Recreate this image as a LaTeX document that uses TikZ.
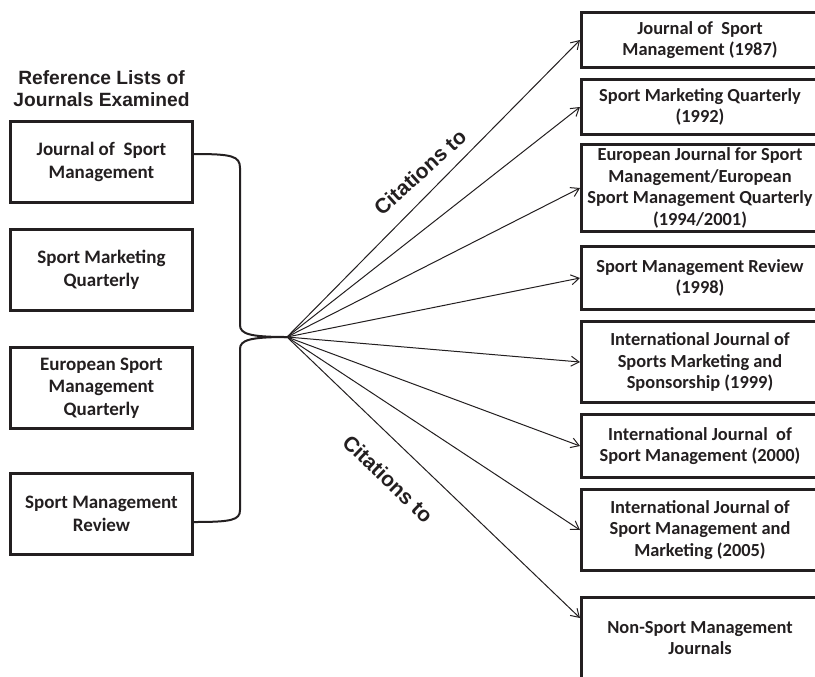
\documentclass[tikz,border=0pt]{standalone}
\usepackage{fontspec}
\setmainfont{Carlito}
\newfontfamily\arialfont{Liberation Sans}
\usetikzlibrary{arrows.meta,positioning}
\definecolor{Ink}{HTML}{231F20}

\begin{document}
\begin{tikzpicture}[
  x=0.5pt,y=-0.5pt,
  srcbox/.style={draw=Ink,line width=1.5pt,fill=white,minimum width=91pt,minimum height=40.5pt,align=center,inner sep=1pt,text=Ink,font=\bfseries\fontsize{9.5}{11.2}\selectfont},
  tgtbox/.style={draw=Ink,line width=1.5pt,fill=white,minimum width=118.5pt,align=center,inner sep=1pt,text=Ink,font=\bfseries\fontsize{9.2}{10.7}\selectfont},
  brace/.style={draw=Ink,line width=1pt},
  cite/.style={-{Straight Barb[length=4pt,width=5pt]},draw=Ink,line width=0.5pt},
  lbl/.style={text=Ink,font=\arialfont\bfseries\fontsize{9.6}{11}\selectfont}
]
\useasboundingbox (0,0) rectangle (815,676);
\clip (0,0) rectangle (815,676);
% journals whose reference lists were examined
\node[srcbox] (jsm) at (101.5,162) {Journal of\ \ Sport\\Management};
\node[srcbox,below=12pt of jsm] (smq) {Sport Marketing\\Quarterly};
\node[srcbox,below=17pt of smq] (esmq) {European Sport\\Management\\Quarterly};
\node[srcbox,below=21pt of esmq] (smr) {Sport Management\\Review};
\node[lbl,align=center,above=3pt of jsm] (head) {Reference Lists of\\Journals Examined};
% cited journals
\node[tgtbox,minimum height=27.5pt] (jsmA) at (700,40) {Journal of\ \ Sport\\Management (1987)};
\node[tgtbox,minimum height=27.5pt,below=4.5pt of jsmA] (smqA) {Sport Marketing Quarterly\\(1992)};
\node[tgtbox,minimum height=43.5pt,below=3.5pt of smqA] (ejsmA) {European Journal for Sport\\Management/European\\Sport Management Quarterly\\(1994/2001)};
\node[tgtbox,minimum height=31.5pt,below=6pt of ejsmA] (smrA) {Sport Management Review\\(1998)};
\node[tgtbox,minimum height=40.5pt,below=4.5pt of smrA] (ijsmsA) {International Journal of\\Sports Marketing and\\Sponsorship (1999)};
\node[tgtbox,minimum height=31.5pt,below=4.5pt of ijsmsA] (ijsmA) {International Journal\ \ of\\Sport Management (2000)};
\node[tgtbox,minimum height=40.5pt,below=4.5pt of ijsmA] (ijsmmA) {International Journal of\\Sport Management and\\Marketing (2005)};
\node[tgtbox,minimum height=40.5pt,below=12pt of ijsmmA] (nonsm) {Non-Sport Management\\Journals};
% brace
\coordinate (tip) at (287,337);
\draw[brace] ([yshift=4pt]jsm.east) .. controls (232,154) and (240,156) .. (240,168) -- (240,325)
  .. controls (240,334) and (250,337) .. (tip);
\draw[brace] (tip) .. controls (250,337) and (240,340) .. (240,349) -- (240,510)
  .. controls (240,520) and (232,522) .. ([yshift=-4pt]smr.east);
% citation arrows
\foreach \t in {jsmA,smqA,ejsmA,smrA,ijsmsA,ijsmA,ijsmmA}
  \draw[cite] (tip) -- (\t.west);
\draw[cite] (tip) -- ([yshift=10pt]nonsm.west);
\node[lbl,rotate=42,font=\arialfont\bfseries\fontsize{10.5}{12}\selectfont] (upcite) at (420,172) {Citations to};
\node[lbl,rotate=-44,font=\arialfont\bfseries\fontsize{10.5}{12}\selectfont] (lowcite) at (388,479) {Citations to};
\end{tikzpicture}
\end{document}
